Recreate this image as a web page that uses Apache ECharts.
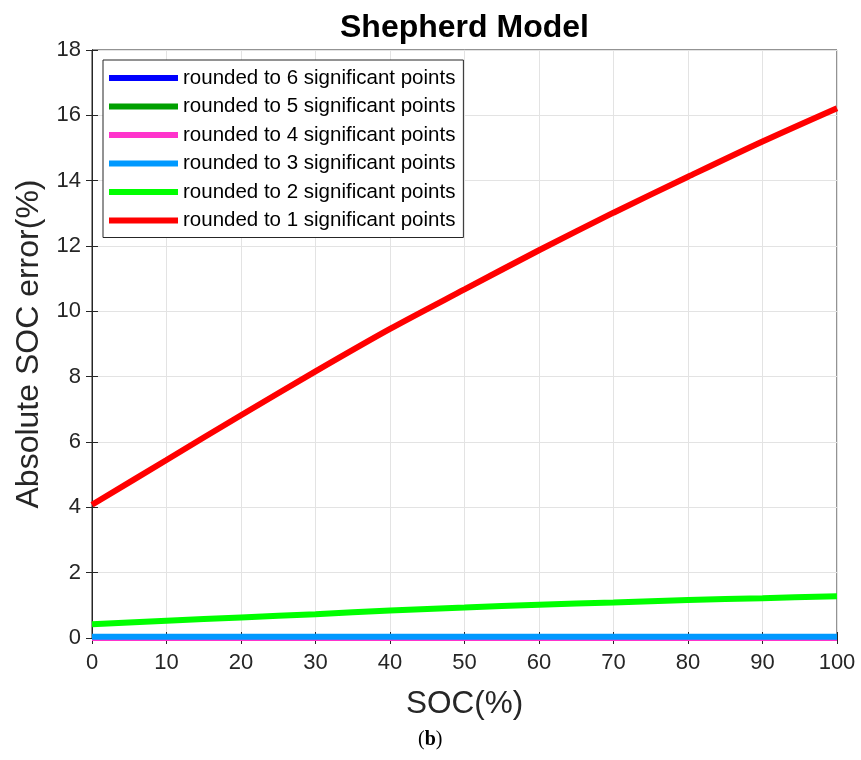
<!DOCTYPE html>
<html>
<head>
<meta charset="utf-8">
<script src="https://cdn.jsdelivr.net/npm/echarts@6/dist/echarts.min.js"></script>
<style>
  html, body { margin: 0; padding: 0; background: #fff; }
  #chart { width: 861px; height: 760px; }
</style>
</head>
<body>
<div id="chart"></div>
<script>
const soc = [0, 10, 20, 30, 40, 50, 60, 70, 80, 90, 100];

const err6 = [0, 0, 0, 0, 0, 0, 0, 0, 0, 0, 0];
const err5 = [0, 0, 0, 0, 0, 0, 0, 0, 0, 0, 0];
const err4 = [0, 0, 0, 0, 0, 0, 0, 0, 0, 0, 0];
const err3 = [0.04, 0.04, 0.04, 0.04, 0.04, 0.04, 0.04, 0.04, 0.04, 0.04, 0.04];
const err2 = [0.42, 0.53, 0.63, 0.73, 0.84, 0.93, 1.02, 1.09, 1.16, 1.22, 1.28];
const err1 = [4.08, 5.45, 6.82, 8.16, 9.46, 10.67, 11.87, 13.02, 14.12, 15.2, 16.22];

const seriesNames = [
  "rounded to 6 significant points",
  "rounded to 5 significant points",
  "rounded to 4 significant points",
  "rounded to 3 significant points",
  "rounded to 2 significant points",
  "rounded to 1 significant points",
];
const seriesColors = ["#0000ff", "#00a000", "#ff33cc", "#0099ff", "#00ff00", "#ff0000"];
const seriesValues = [err6, err5, err4, err3, err2, err1];

const chart = echarts.init(document.getElementById("chart"), null, { renderer: "canvas" });

const fontFam = "Liberation Sans, Arial, sans-serif";
const axisText = { color: "#262626", fontSize: 22, fontFamily: fontFam };

const series = seriesNames.map((name, i) => ({
  name,
  type: "line",
  data: soc.map((x, j) => [x, seriesValues[i][j]]),
  showSymbol: false,
  symbol: "none",
  smooth: 0.3,
  clip: false,
  lineStyle: { color: seriesColors[i], width: 6 },
  itemStyle: { color: seriesColors[i] },
}));

chart.setOption({
  backgroundColor: "#fff",
  animation: false,
  title: {
    text: "Shepherd Model",
    left: 335,
    top: 7,
    textStyle: { fontSize: 32, fontWeight: "bold", color: "#000", fontFamily: fontFam },
  },
  grid: {
    left: 92,
    right: 24,
    top: 50,
    bottom: 122,
    show: true,
    borderColor: "#262626",
    borderWidth: 1,
  },
  legend: {
    orient: "vertical",
    left: 103,
    top: 60,
    padding: [7, 8, 6, 6],
    itemWidth: 69,
    itemHeight: 6,
    itemGap: 6.5,
    icon: "rect",
    backgroundColor: "#fff",
    borderColor: "#262626",
    borderWidth: 1,
    borderRadius: 0,
    data: seriesNames,
    textStyle: { fontSize: 20.5, lineHeight: 22, color: "#000", fontFamily: fontFam },
  },
  xAxis: [
    {
      type: "value",
      min: 0,
      max: 100,
      interval: 10,
      name: "SOC(%)",
      nameLocation: "middle",
      nameGap: 50,
      nameTextStyle: { fontSize: 31.5, color: "#262626", fontFamily: fontFam },
      axisLine: { show: true, lineStyle: { color: "#262626", width: 1 } },
      axisTick: { show: true, inside: true, length: 6, lineStyle: { color: "#262626" } },
      axisLabel: Object.assign({ margin: 14 }, axisText),
      splitLine: { show: true, lineStyle: { color: "#e3e3e3", width: 1 } },
    },
    {
      type: "value",
      position: "top",
      min: 0,
      max: 100,
      interval: 10,
      axisLine: { show: true, lineStyle: { color: "#262626" } },
      axisTick: { show: true, inside: true, length: 6, lineStyle: { color: "#262626" } },
      axisLabel: { show: false },
      splitLine: { show: false },
    },
  ],
  yAxis: [
    {
      type: "value",
      min: 0,
      max: 18,
      interval: 2,
      name: "Absolute SOC error(%)",
      nameLocation: "middle",
      nameGap: 47,
      nameTextStyle: { fontSize: 32, color: "#262626", fontFamily: fontFam },
      axisLine: { show: true, lineStyle: { color: "#262626", width: 1 } },
      axisTick: { show: true, inside: true, length: 6, lineStyle: { color: "#262626" } },
      axisLabel: Object.assign({ margin: 11 }, axisText),
      splitLine: { show: true, lineStyle: { color: "#e3e3e3", width: 1 } },
    },
    {
      type: "value",
      position: "right",
      min: 0,
      max: 18,
      interval: 2,
      axisLine: { show: true, lineStyle: { color: "#262626" } },
      axisTick: { show: true, inside: true, length: 6, lineStyle: { color: "#262626" } },
      axisLabel: { show: false },
      splitLine: { show: false },
    },
  ],
  graphic: [
    {
      type: "text",
      left: 418,
      top: 730,
      style: {
        text: "({b|b})",
        font: "20px 'Liberation Serif', serif",
        fill: "#000",
        rich: { b: { fontWeight: "bold", fontSize: 20, fontFamily: "Liberation Serif, serif" } },
      },
    },
  ],
  series,
});
</script>
</body>
</html>
